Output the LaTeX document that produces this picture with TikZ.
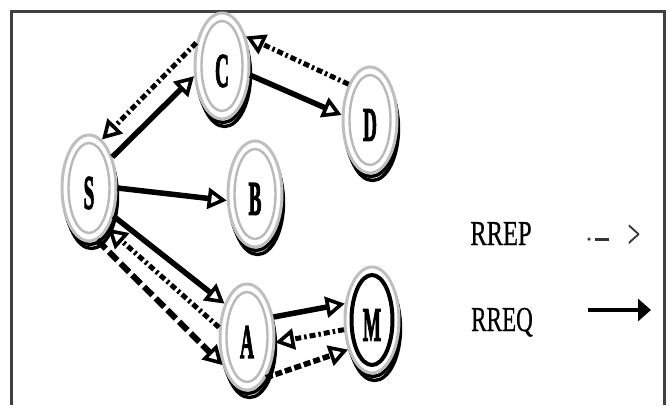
\documentclass[tikz,border=0pt]{standalone}
\usepackage{fontspec}
\setmainfont{Liberation Serif}
\newfontfamily\heavy[FakeBold=3]{Liberation Serif Bold}
\newfontfamily\legfont[FakeBold=0.8]{Liberation Serif}
\usepackage{graphicx}
\usetikzlibrary{arrows.meta,shapes.geometric,calc}

\tikzset{
  x=1pt, y=-1pt,
  nd/.style={ellipse, minimum width=54pt, minimum height=106pt, inner sep=0pt,
    draw=gray!50, line width=3pt, fill=white},
  shadowring/.style={draw=black, line width=3.4pt},
  innerring/.style={draw=gray!55, line width=2.4pt},
  mring/.style={draw=black, line width=4pt},
  lbl/.style={font=\heavy\fontsize{48}{48}\selectfont, inner sep=0pt},
  opentip/.style={-{Triangle[open, length=19pt, width=21pt, line width=3.6pt]}},
  req/.style={opentip, line width=5.5pt},
  rep/.style={opentip, line width=5pt, dash pattern=on 6pt off 3pt on 2.5pt off 3pt},
  longdash/.style={opentip, line width=6pt, dash pattern=on 12pt off 4.5pt},
  shortdash/.style={opentip, line width=5.5pt, dash pattern=on 7pt off 3pt},
  legtext/.style={font=\legfont\fontsize{35}{35}\selectfont, inner sep=0pt, anchor=base},
  framec/.style={draw=black!75, line width=3pt},
}

\newcommand\netnode[5]{%
  \draw[shadowring] (#2+1,#3+4) ellipse [x radius=26.5pt, y radius=52.5pt];
  \draw[shadowring] (#2+2.5,#3+8.5) ellipse [x radius=26pt, y radius=52pt];
  \node[nd] (#1) at (#2,#3) {};
  \draw[#5] (#1.center) ellipse [x radius=20.5pt, y radius=45pt];
  \node[lbl] (#1l) at ([yshift=-5pt]#1.center) {\scalebox{0.4}[1]{#4}};
}

\begin{document}
\begin{tikzpicture}
\useasboundingbox (0,0) rectangle (670,405);

% frame
\coordinate (f1) at (11,405);
\coordinate (f2) at (11,11);
\coordinate (f3) at (664,11);
\coordinate (f4) at (664,405);
\draw[framec] (f1) -- (f2) -- (f3) -- (f4);

% nodes
\netnode{C}{222}{66}{C}{innerring}
\netnode{D}{370}{120}{D}{innerring}
\netnode{S}{89}{188}{S}{innerring}
\netnode{B}{255}{194}{B}{innerring}
\netnode{A}{247}{337}{A}{innerring}
\netnode{M}{372}{320}{M}{mring}

% connectors
\draw[req] (S.53) -- (C.200);
\draw[rep] (C.138) -- (S.75);
\draw[req] (C.342) -- (D.170);
\draw[rep] (D.121) -- (C.51);
\draw[req] (S.0) -- (B.193);
\draw[req] (S.311) -- (A.124);
\draw[rep] (A.161) -- (S.295);
\draw[longdash] (S.279) -- (A.229);
\draw[req] (A.37) -- (M.149);
\draw[rep] (M.199) -- (A.349);
\draw[shortdash] (A.295) -- (M.231);

% legend
\node[legtext] (rrep) at (501,245) {\scalebox{0.7}[1]{RREP}};
\node[legtext] (rreq) at (502,331) {\scalebox{0.66}[1]{RREQ}};

\node[circle, fill=black!80, inner sep=0pt, minimum size=3.5pt] (pdot) at (589,239) {};
\coordinate (pd1) at (595,239);
\coordinate (pd2) at (609,239);
\draw[line width=3pt, black!80] (pd1) -- (pd2);
\node[font=\legfont\fontsize{40}{40}\selectfont, inner sep=0pt, text=black!80] (pgt) at (634,236) {\scalebox{0.55}[1]{>}};

\coordinate (q1) at (588,310);
\coordinate (q2) at (651,310);
\draw[line width=4.5pt, -{Triangle[length=13pt, width=22pt]}] (q1) -- (q2);
\end{tikzpicture}
\end{document}
